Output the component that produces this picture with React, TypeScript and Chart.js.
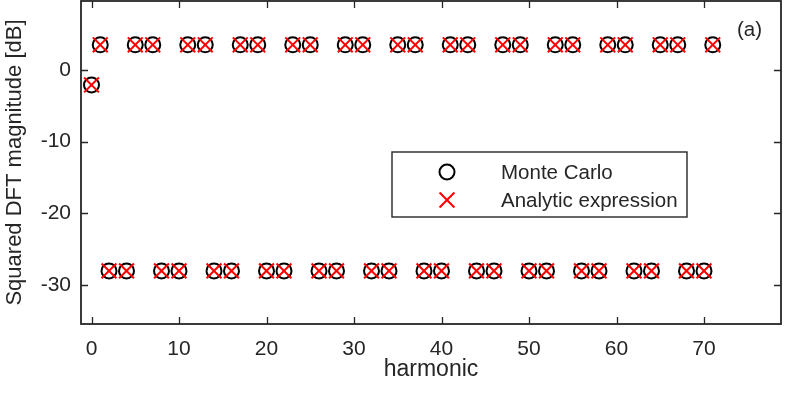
import React, { useEffect, useRef } from 'react';
import { Chart, registerables } from 'chart.js';

Chart.register(...registerables);

const harmonics = [0, 1, 2, 4, 5, 7, 8, 10, 11, 13, 14, 16, 17, 19, 20, 22, 23, 25, 26, 28, 29, 31, 32, 34, 35, 37, 38, 40, 41, 43, 44, 46, 47, 49, 50, 52, 53, 55, 56, 58, 59, 61, 62, 64, 65, 67, 68, 70, 71];
const monteCarloDb = [-2.1, 3.5, -28, -28, 3.5, 3.5, -28, -28, 3.5, 3.5, -28, -28, 3.5, 3.5, -28, -28, 3.5, 3.5, -28, -28, 3.5, 3.5, -28, -28, 3.5, 3.5, -28, -28, 3.5, 3.5, -28, -28, 3.5, 3.5, -28, -28, 3.5, 3.5, -28, -28, 3.5, 3.5, -28, -28, 3.5, 3.5, -28, -28, 3.5];
const analyticDb = [-2.1, 3.5, -28, -28, 3.5, 3.5, -28, -28, 3.5, 3.5, -28, -28, 3.5, 3.5, -28, -28, 3.5, 3.5, -28, -28, 3.5, 3.5, -28, -28, 3.5, 3.5, -28, -28, 3.5, 3.5, -28, -28, 3.5, 3.5, -28, -28, 3.5, 3.5, -28, -28, 3.5, 3.5, -28, -28, 3.5, 3.5, -28, -28, 3.5];
const xTicks = [0, 10, 20, 30, 40, 50, 60, 70];
const yTicks = [-30, -20, -10, 0];
const seriesNames = ['Monte Carlo', 'Analytic expression'];
const panelLabel = '(a)';

const AX = '#262626';
const FONT = "'Liberation Sans', Arial, Helvetica, sans-serif";

const zeroPad = (s: any) => {
  s.paddingLeft = 0; s.paddingRight = 0; s.paddingTop = 0; s.paddingBottom = 0;
  s.getPadding = () => ({ left: 0, top: 0, right: 0, bottom: 0 });
};

const drawMarker = (ctx: CanvasRenderingContext2D, style: string, x: number, y: number, r: number, color: string, w: number) => {
  ctx.strokeStyle = color;
  ctx.lineWidth = w;
  ctx.beginPath();
  if (style === 'circle') {
    ctx.arc(x, y, r, 0, Math.PI * 2);
  } else {
    const o = r * Math.SQRT1_2;
    ctx.moveTo(x - o, y - o); ctx.lineTo(x + o, y + o);
    ctx.moveTo(x + o, y - o); ctx.lineTo(x - o, y + o);
  }
  ctx.stroke();
};

const framePlugin = {
  id: 'frame',
  beforeDatasetsDraw(chart: any) {
    const { ctx, chartArea: a, scales } = chart;
    const tl = 7;
    ctx.save();
    ctx.strokeStyle = AX;
    ctx.lineWidth = 1.3;
    ctx.beginPath();
    scales.x.ticks.forEach((t: any) => {
      const px = Math.round(scales.x.getPixelForValue(t.value)) + 0.5;
      ctx.moveTo(px, a.bottom); ctx.lineTo(px, a.bottom - tl);
      ctx.moveTo(px, a.top); ctx.lineTo(px, a.top + tl);
    });
    scales.y.ticks.forEach((t: any) => {
      const py = Math.round(scales.y.getPixelForValue(t.value)) + 0.5;
      ctx.moveTo(a.left, py); ctx.lineTo(a.left + tl, py);
      ctx.moveTo(a.right, py); ctx.lineTo(a.right - tl, py);
    });
    ctx.stroke();
    ctx.lineWidth = 1.8;
    ctx.strokeRect(a.left, a.top, a.right - a.left, a.bottom - a.top);
    ctx.restore();
  },
  afterDatasetsDraw(chart: any) {
    const { ctx } = chart;
    const ds = chart.data.datasets;
    ctx.save();
    const bx = 392, by = 152, bw = 295, bh = 65;
    ctx.fillStyle = '#ffffff';
    ctx.fillRect(bx, by, bw, bh);
    ctx.strokeStyle = AX;
    ctx.lineWidth = 1.4;
    ctx.strokeRect(bx, by, bw, bh);
    const rows = [172, 200];
    const mx = 447;
    drawMarker(ctx, 'circle', mx, rows[0], ds[0].pointRadius, ds[0].borderColor, ds[0].borderWidth);
    drawMarker(ctx, 'cross', mx, rows[1], ds[1].pointRadius, ds[1].borderColor, ds[1].borderWidth);
    ctx.fillStyle = AX;
    ctx.font = `20.5px ${FONT}`;
    ctx.textAlign = 'left';
    ctx.textBaseline = 'middle';
    ctx.fillText(seriesNames[0], 501, rows[0] + 1);
    ctx.fillText(seriesNames[1], 501, rows[1] + 1);
    ctx.font = `20.5px ${FONT}`;
    ctx.fillText(panelLabel, 737, 30);
    ctx.restore();
  },
};

export default function App() {
  const ref = useRef<HTMLCanvasElement>(null);
  useEffect(() => {
    document.body.style.margin = '0';
    const cv = ref.current;
    if (!cv) return;
    const chart = new Chart(cv, {
      type: 'scatter',
      data: {
        datasets: [
          {
            label: seriesNames[0],
            data: harmonics.map((h, i) => ({ x: h, y: monteCarloDb[i] })),
            pointStyle: 'circle',
            pointRadius: 7.5,
            pointHoverRadius: 7.5,
            borderColor: '#000000',
            backgroundColor: 'rgba(0,0,0,0)',
            borderWidth: 2,
            pointBorderWidth: 2,
            showLine: false,
            order: 1,
          },
          {
            label: seriesNames[1],
            data: harmonics.map((h, i) => ({ x: h, y: analyticDb[i] })),
            pointStyle: 'crossRot',
            pointRadius: 10.5,
            pointHoverRadius: 10.5,
            borderColor: '#ff0000',
            backgroundColor: '#ff0000',
            borderWidth: 2,
            pointBorderWidth: 2,
            showLine: false,
            order: 0,
          },
        ],
      },
      options: {
        responsive: false,
        animation: false,
        devicePixelRatio: 1,
        events: [],
        layout: { autoPadding: false, padding: { top: 1, right: 8, left: 0, bottom: 0 } },
        plugins: { legend: { display: false }, tooltip: { enabled: false } },
        scales: {
          x: {
            type: 'linear',
            min: -1.2,
            max: 78.8,
            grid: { display: false, drawTicks: false },
            border: { display: false },
            afterBuildTicks: (s: any) => { s.ticks = xTicks.map((v) => ({ value: v })); },
            afterFit: (s: any) => { s.height = 71; zeroPad(s); },
            ticks: { color: AX, font: { family: FONT, size: 21 }, padding: 13, maxRotation: 0, autoSkip: false },
            title: { display: true, text: 'harmonic', color: AX, font: { family: FONT, size: 23 }, padding: { top: 0, bottom: 12 } },
          },
          y: {
            type: 'linear',
            min: -35.4,
            max: 9.6,
            grid: { display: false, drawTicks: false },
            border: { display: false },
            afterBuildTicks: (s: any) => { s.ticks = yTicks.map((v) => ({ value: v })); },
            afterFit: (s: any) => { s.width = 81; zeroPad(s); },
            ticks: { color: AX, font: { family: FONT, size: 21 }, padding: 10, autoSkip: false },
            title: { display: true, text: 'Squared DFT magnitude [dB]', color: AX, font: { family: FONT, size: 22 }, padding: { top: 2, bottom: 0 } },
          },
        },
      },
      plugins: [framePlugin],
    } as any);
    return () => chart.destroy();
  }, []);
  return (
    <div style={{ width: 789, height: 395 }}>
      <canvas ref={ref} width={789} height={395} style={{ display: 'block' }} />
    </div>
  );
}
